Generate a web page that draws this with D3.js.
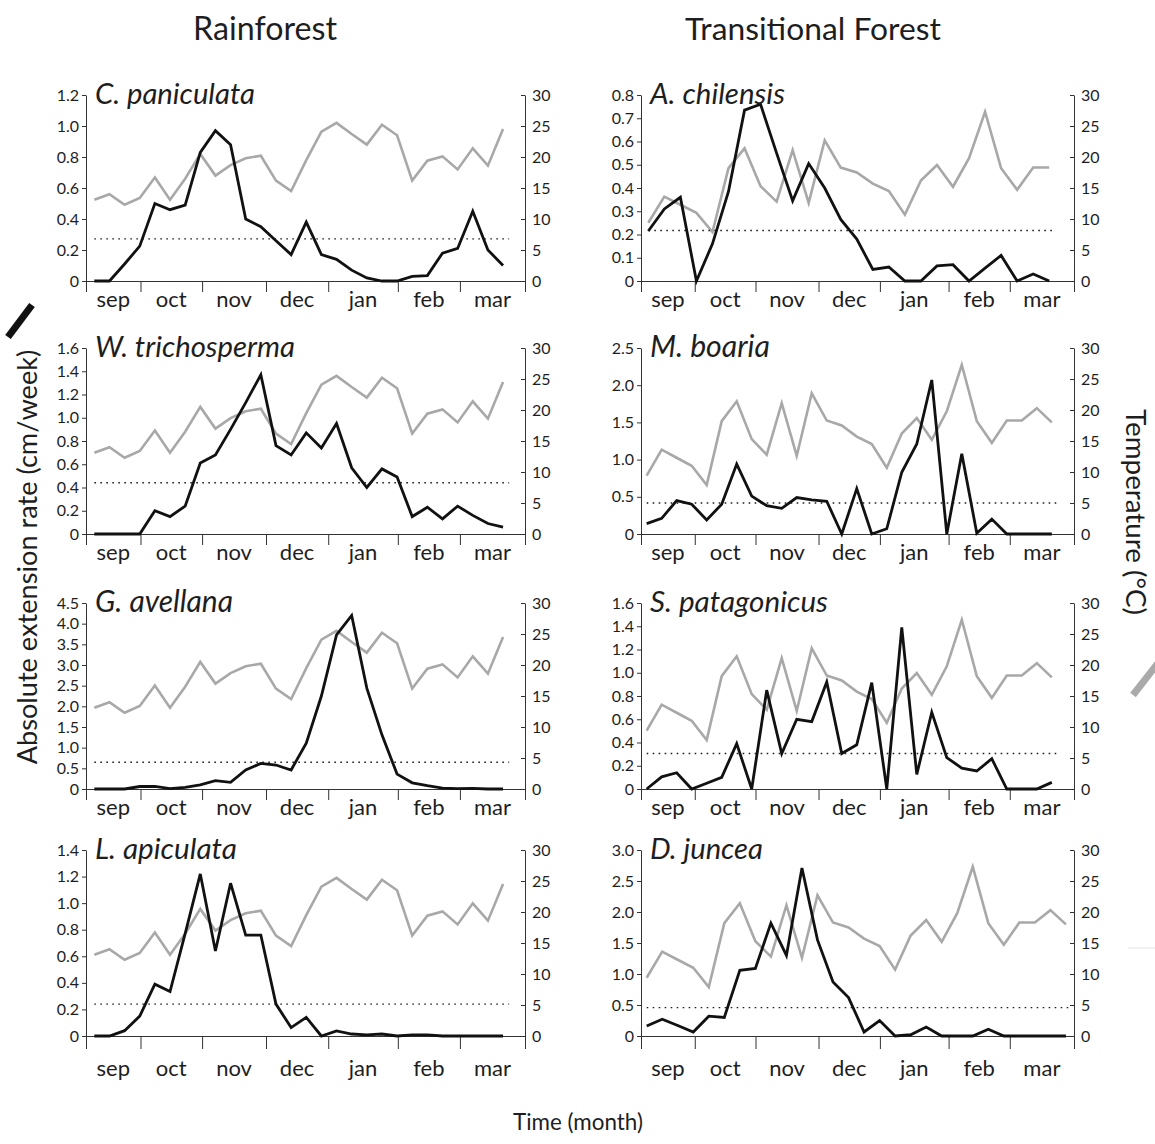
<!DOCTYPE html>
<html>
<head>
<meta charset="utf-8">
<script src="https://cdn.jsdelivr.net/npm/d3@7"></script>
<style>
  body { margin: 0; background: #fff; }
  svg { display: block; font-family: Lato, "Open Sans", sans-serif; }
</style>
</head>
<body>
<svg id="chart" width="1155" height="1144"></svg>
<script>
// month boundaries on the time axis (axis units, ~weeks from axis start)
const months = ['sep', 'oct', 'nov', 'dec', 'jan', 'feb', 'mar'];
const monthEdges = [0, 3.6, 7.67, 11.89, 16.0, 20.6, 24.7, 29];

// weekly mean temperature (°C)
const rainforestTemp = [13.1, 14.0, 12.3, 13.4, 16.7, 13.1, 16.5, 20.5, 17.0, 18.7, 19.8, 20.2, 16.2, 14.5,
  19.5, 24.1, 25.5, 23.7, 22.0, 25.2, 23.5, 16.2, 19.4, 20.1, 18.0, 21.4, 18.6, 24.5];
const transitionalTemp = [9.4, 13.6, 12.3, 11.0, 7.9, 18.2, 21.4, 15.3, 12.8, 21.1, 12.6, 22.7, 18.3, 17.5,
  15.7, 14.5, 10.7, 16.2, 18.7, 15.2, 19.8, 27.3, 18.2, 14.7, 18.3, 18.3, 20.3, 18.0];

// absolute extension rate (cm/week)
const paniculata = [0, 0, 0.11, 0.225, 0.50, 0.46, 0.49, 0.83, 0.97, 0.88, 0.40, 0.35, 0.26, 0.17,
  0.38, 0.17, 0.14, 0.07, 0.02, 0, 0, 0.03, 0.035, 0.18, 0.21, 0.45, 0.20, 0.10];
const trichosperma = [0, 0, 0, 0, 0.20, 0.15, 0.24, 0.61, 0.68, 0.90, 1.13, 1.37, 0.76, 0.68,
  0.87, 0.74, 0.95, 0.57, 0.40, 0.56, 0.49, 0.15, 0.23, 0.13, 0.24, 0.16, 0.09, 0.06];
const avellana = [0, 0, 0, 0.06, 0.065, 0.01, 0.04, 0.10, 0.20, 0.16, 0.46, 0.62, 0.58, 0.46,
  1.11, 2.25, 3.73, 4.20, 2.44, 1.31, 0.36, 0.15, 0.08, 0.02, 0.01, 0.015, 0, 0];
const apiculata = [0, 0, 0.04, 0.15, 0.39, 0.335, 0.77, 1.22, 0.64, 1.15, 0.76, 0.76, 0.24, 0.063,
  0.14, 0, 0.038, 0.015, 0.008, 0.015, 0, 0.008, 0.008, 0, 0, 0, 0, 0];
const chilensis = [0.215, 0.31, 0.36, 0, 0.16, 0.385, 0.735, 0.76, 0.55, 0.345, 0.505, 0.40, 0.265,
  0.18, 0.05, 0.06, 0, 0, 0.065, 0.07, 0, 0.055, 0.11, 0, 0.03, 0];
const boaria = [0.14, 0.21, 0.45, 0.40, 0.19, 0.40, 0.94, 0.51, 0.38, 0.345, 0.49, 0.46, 0.44, 0,
  0.61, 0, 0.07, 0.83, 1.21, 2.07, 0, 1.08, 0.01, 0.20, 0, 0, 0, 0];
const patagonicus = [0, 0.105, 0.14, 0, 0.05, 0.10, 0.39, 0, 0.85, 0.305, 0.60, 0.58, 0.92, 0.305,
  0.38, 0.915, 0, 1.39, 0.125, 0.66, 0.27, 0.18, 0.155, 0.26, 0, 0, 0, 0.057];
const juncea = [0.16, 0.27, 0.17, 0.065, 0.32, 0.30, 1.06, 1.09, 1.82, 1.30, 2.71, 1.55, 0.87, 0.62,
  0.065, 0.25, 0, 0.02, 0.145, 0, 0, 0, 0.11, 0, 0, 0, 0, 0];

// per panel, in order: rainforest (4) then transitional forest (4)
const species = ['C. paniculata', 'W. trichosperma', 'G. avellana', 'L. apiculata',
  'A. chilensis', 'M. boaria', 'S. patagonicus', 'D. juncea'];
const rates = [paniculata, trichosperma, avellana, apiculata, chilensis, boaria, patagonicus, juncea];
const thresholds = [0.272, 0.441, 0.646, 0.240, 0.217, 0.417, 0.306, 0.457];
const rateMax = [1.2, 1.6, 4.5, 1.4, 0.8, 2.5, 1.6, 3.0];
const rateStep = [0.2, 0.2, 0.5, 0.2, 0.1, 0.5, 0.2, 0.5];
// sampling: first sample and interval, in axis units
const sampleStart = [0.55, 0.55, 0.55, 0.55, 0.49, 0.38, 0.38, 0.38];
const sampleStep = [1.0, 1.0, 1.0, 1.0, 1.074, 1.005, 1.005, 1.04];
const tempTicks = [0, 5, 10, 15, 20, 25, 30];

const svg = d3.select('#chart');
const ink = '#1e1e1e';
const colX = [[86, 525], [641, 1074]];
const rowTop = [95, 348, 603, 850];
const plotH = 186;

function fit(sel, w) {
  const len = sel.node().getComputedTextLength();
  sel.attr('font-size', parseFloat(sel.attr('font-size')) * w / len);
  return sel;
}

rates.forEach((rate, i) => {
  const col = i < 4 ? 0 : 1, row = i % 4;
  const [x0, x1] = colX[col];
  const top = rowTop[row], base = top + plotH;
  const temp = (col === 0 ? rainforestTemp : transitionalTemp).slice(0, rate.length);
  const tickLen = row === 3 ? 13 : 11;

  const x = d3.scaleLinear().domain([0, 29]).range([x0, x1]);
  const y = d3.scaleLinear().domain([0, rateMax[i]]).range([base, top]);
  const yT = d3.scaleLinear().domain([0, 30]).range([base, top]);
  const xs = k => x(sampleStart[i] + k * sampleStep[i]);

  const g = svg.append('g');

  // left axis
  const yTicks = d3.range(0, rateMax[i] + rateStep[i] / 2, rateStep[i]);
  const la = g.append('g').attr('transform', `translate(${x0},0)`)
    .call(d3.axisLeft(y).tickValues(yTicks).tickSize(4).tickPadding(3).tickSizeOuter(0)
      .tickFormat(v => v === 0 ? '0' : d3.format('.1f')(v)));
  // right axis (temperature)
  const ra = g.append('g').attr('transform', `translate(${x1},0)`)
    .call(d3.axisRight(yT).tickValues(tempTicks).tickSize(-4).tickPadding(7).tickSizeOuter(0));
  // time axis
  const xa = g.append('g').attr('transform', `translate(0,${base})`)
    .call(d3.axisBottom(x).tickValues(monthEdges).tickSize(tickLen).tickSizeOuter(0).tickFormat(''));
  [la, ra, xa].forEach(a => {
    a.selectAll('path, line').attr('stroke', '#333').attr('stroke-width', 1);
    a.selectAll('text').attr('font-size', 16).attr('fill', ink)
      .attr('font-family', 'Lato, "Open Sans", sans-serif');
  });

  g.selectAll('.month').data(months).join('text')
    .attr('x', (m, k) => x((monthEdges[k] + monthEdges[k + 1]) / 2))
    .attr('y', base + (row === 3 ? 40 : 26))
    .attr('text-anchor', 'middle').attr('font-size', 22).attr('fill', ink)
    .text(m => m);

  // temperature (grey)
  g.append('path').datum(temp)
    .attr('d', d3.line().x((d, k) => xs(k)).y(d => yT(d)))
    .attr('fill', 'none').attr('stroke', '#a8a8a8').attr('stroke-width', 2.6);

  // mean rate (dotted)
  g.append('line')
    .attr('x1', xs(0)).attr('x2', xs(rate.length - 1 + 0.4))
    .attr('y1', y(thresholds[i])).attr('y2', y(thresholds[i]))
    .attr('stroke', ink).attr('stroke-width', 1.4).attr('stroke-dasharray', '1.6,4.4');

  // extension rate (black)
  g.append('path').datum(rate)
    .attr('d', d3.line().x((d, k) => xs(k)).y(d => y(d)))
    .attr('fill', 'none').attr('stroke', '#111').attr('stroke-width', 2.8);

  // species name
  const labelW = [160, 200, 138, 142, 135, 120, 178, 113][i];
  fit(g.append('text').attr('x', x0 + 9).attr('y', top + 9)
    .attr('font-size', 25).attr('font-style', 'italic').attr('fill', ink)
    .text(species[i]), labelW);
});

// column headings
fit(svg.append('text').attr('x', 265).attr('y', 40).attr('text-anchor', 'middle')
  .attr('font-size', 26).attr('fill', ink).text('Rainforest'), 144);
fit(svg.append('text').attr('x', 813).attr('y', 40).attr('text-anchor', 'middle')
  .attr('font-size', 26).attr('fill', ink).text('Transitional Forest'), 256);

// axis titles
fit(svg.append('text').attr('transform', 'translate(37,557) rotate(-90)').attr('text-anchor', 'middle')
  .attr('font-size', 24).attr('fill', ink).text('Absolute extension rate (cm/week)'), 415);
fit(svg.append('text').attr('transform', 'translate(1126,512) rotate(90)').attr('text-anchor', 'middle')
  .attr('font-size', 24).attr('fill', ink).text('Temperature (°C)'), 206);
fit(svg.append('text').attr('x', 578).attr('y', 1130).attr('text-anchor', 'middle')
  .attr('font-size', 24).attr('fill', ink).text('Time (month)'), 130);

// series keys beside the axis titles
svg.append('line').attr('x1', 8).attr('y1', 337).attr('x2', 32).attr('y2', 305)
  .attr('stroke', '#111').attr('stroke-width', 7);
svg.append('line').attr('x1', 1133).attr('y1', 695).attr('x2', 1158).attr('y2', 663)
  .attr('stroke', '#aaa').attr('stroke-width', 7);
svg.append('line').attr('x1', 1128).attr('y1', 948).attr('x2', 1155).attr('y2', 948)
  .attr('stroke', '#e6e6e6').attr('stroke-width', 1);
</script>
</body>
</html>
